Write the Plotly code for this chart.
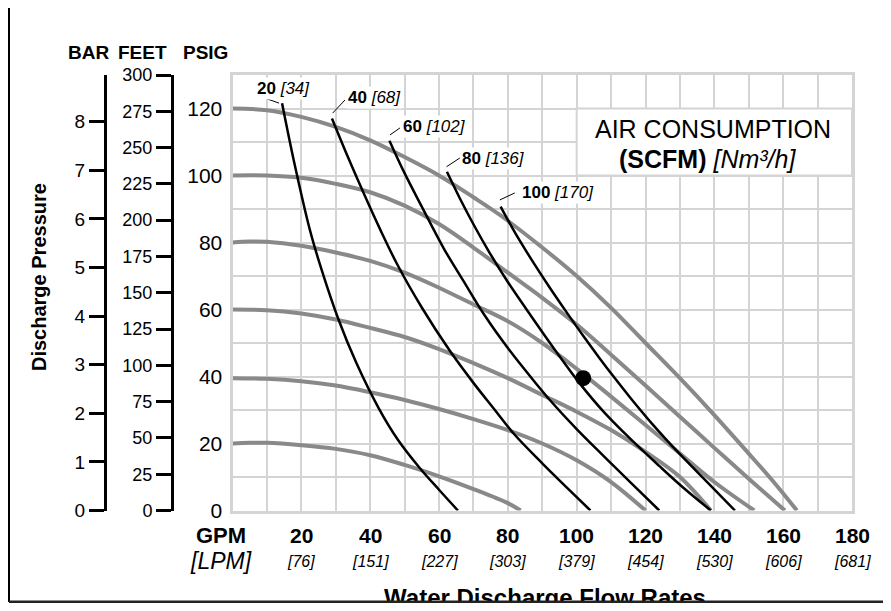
import plotly.graph_objects as go

# ---------------- data ----------------
GPM_TICKS = [20, 40, 60, 80, 100, 120, 140, 160, 180]
LPM_LABELS = ["76", "151", "227", "303", "379", "454", "530", "606", "681"]
FEET_TICKS = [0, 25, 50, 75, 100, 125, 150, 175, 200, 225, 250, 275, 300]
BAR_TICKS = [0, 1, 2, 3, 4, 5, 6, 7, 8]
FT_PER_PSI = 2.3077
PSI_PER_BAR = 14.5038

# pump performance curves (gray), GPM vs discharge PSIG
g120_x = [0, 10, 20, 30, 40, 50, 60, 70, 78, 90, 100, 110, 120, 130, 140, 150, 157, 164]
g120_y = [120, 119.5, 117.5, 114.5, 110.5, 105.5, 100, 93.5, 88, 78.5, 70, 60.5, 50, 39.5, 28.5, 17, 8.8, 0]
g100_x = [0, 10, 20, 30, 40, 50, 60, 70, 80, 90, 100, 110, 120, 130, 140, 150, 160.5]
g100_y = [100, 100, 99.3, 97.5, 95, 91, 85.5, 78.5, 71, 63.5, 55.5, 46.5, 37.3, 28, 18.7, 9.5, 0]
g80_x = [0, 5, 10, 20, 30, 40, 50, 60, 70, 80, 90, 100, 110, 120, 130, 140, 151.6]
g80_y = [80, 80.3, 80.2, 79, 77, 74.5, 71, 66.5, 61.5, 56.5, 50, 42.3, 34, 25.5, 17, 8.5, 0]
g60_x = [0, 10, 20, 30, 40, 50, 60, 70, 80, 90, 100, 110, 120, 130, 139]
g60_y = [60, 59.8, 58.8, 57, 54.5, 51.8, 48.2, 44, 39.5, 34.5, 29.5, 24, 17.5, 10, 0]
g40_x = [0, 10, 20, 30, 40, 50, 60, 70, 80, 90, 100, 110, 120]
g40_y = [39.5, 39.3, 38.6, 37.3, 35.3, 33, 30.3, 27.3, 24, 20, 15, 8.5, 0]
g20_x = [0, 5, 10, 20, 30, 40, 50, 60, 70, 80, 83.7]
g20_y = [20, 20.2, 20.2, 19.5, 18.4, 16.5, 13.6, 10.2, 6.4, 2.2, 0]

# air consumption curves (black)
SCFM = [20, 40, 60, 80, 100]
NM3H = [34, 68, 102, 136, 170]
b20_x = [14.4, 18, 22.5, 26, 30.8, 36, 42.5, 48, 54.4, 60, 65.5]
b20_y = [121.6, 103.6, 83.7, 71.5, 57, 44, 30.5, 21.2, 12.7, 6.2, 0]
b40_x = [28.9, 33, 38, 43, 48, 55, 63, 70, 76, 82, 90, 97, 104]
b40_y = [117, 106.8, 95, 83.7, 73.2, 60.6, 47.9, 38.1, 30.3, 22.6, 14.1, 7, 0]
b60_x = [45.6, 50, 55, 61.4, 67, 73.3, 80, 87, 92.2, 100, 108, 116, 124]
b60_y = [110.4, 100.7, 90.7, 78.2, 68.7, 58.2, 48.5, 39.4, 33, 24.3, 16.1, 8, 0]
b80_x = [62.3, 66, 70.4, 74.5, 80, 87, 94, 101, 108, 116, 124, 131, 139]
b80_y = [101.1, 93.3, 84.7, 77.3, 68.2, 57.7, 47.5, 37.8, 29.3, 21, 13.3, 6.8, 0]
b100_x = [77.9, 82, 87.3, 92, 97, 102, 106.7, 111, 115.4, 122, 130, 138, 146]
b100_y = [90.7, 83.1, 74.2, 66.8, 59.3, 52, 45.4, 39.6, 33.9, 25.8, 16.8, 8.4, 0]

DOT_X = [101.9]
DOT_Y = [39.5]

# ---------------- styling / layout helpers ----------------
FONT = "Liberation Sans, Arial, Helvetica, sans-serif"
GRID = "#d4d4d4"
GRAY = "#898989"
OFF = 8                      # page body margin
W, H = 875, 595
ML, MR, MT, MB = 12, 31, 67, 0
PW, PH = W - ML - MR, H - MT - MB


def fx(px):
    return (px - OFF - ML) / PW


def fy(py):
    return 1 - (py - OFF - MT) / PH


LABEL_SHIFT = [(1, 15), (43, 21.5), (45, 13.7), (46.4, 13.8), (57.7, 13.7)]
LEADER = [(-17, 5, -3, 0), (0.7, 5.5, 13, 18.5), (0.5, 5.7, 10.5, 12.7),
          (-0.4, 5.1, 12.9, 13.8), (-0.8, 6.7, 14.2, 13.7)]

fig = go.Figure()

for gx, gy in [(g20_x, g20_y), (g40_x, g40_y), (g60_x, g60_y),
               (g80_x, g80_y), (g100_x, g100_y), (g120_x, g120_y)]:
    fig.add_trace(go.Scatter(x=gx, y=gy, mode="lines",
                             line=dict(color=GRAY, width=4, shape="spline", smoothing=1),
                             hoverinfo="skip", showlegend=False))

blacks = [(b20_x, b20_y), (b40_x, b40_y), (b60_x, b60_y), (b80_x, b80_y), (b100_x, b100_y)]
for bx, by in blacks:
    fig.add_trace(go.Scatter(x=bx, y=by, mode="lines",
                             line=dict(color="black", width=2.5, shape="spline", smoothing=1),
                             hoverinfo="skip", showlegend=False))

fig.add_trace(go.Scatter(x=DOT_X, y=DOT_Y, mode="markers",
                         marker=dict(color="black", size=16), hoverinfo="skip", showlegend=False))

# dummy traces so the FEET and BAR axes exist
fig.add_trace(go.Scatter(x=[None], y=[None], yaxis="y2", showlegend=False, hoverinfo="skip"))
fig.add_trace(go.Scatter(x=[None], y=[None], yaxis="y3", showlegend=False, hoverinfo="skip"))

# bottom title drawn as clipped text in a hidden strip subplot (cut off like the reference)
STRIP_TOP, STRIP_BOT = 572, 603
fig.add_trace(go.Scatter(x=[fx(545)], y=[(STRIP_BOT - 600) / (STRIP_BOT - STRIP_TOP)],
                         xaxis="x2", yaxis="y4", mode="text",
                         text=["<b>Water Discharge Flow Rates</b>"],
                         textfont=dict(family=FONT, size=24, color="black"),
                         textposition="middle center", cliponaxis=True,
                         hoverinfo="skip", showlegend=False))

annotations = []
shapes = []


def ann(x, y, text, size, xref="paper", yref="paper", **kw):
    d = dict(x=x, y=y, xref=xref, yref=yref, text=text, showarrow=False,
             xanchor="center", yanchor="middle", font=dict(size=size))
    d.update(kw)
    annotations.append(d)


# x tick labels
for g, l in zip(GPM_TICKS, LPM_LABELS):
    ann(g, fy(535), f"<b>{g}</b>", 21, xref="x")
    ann(g, fy(561), f"<i>[{l}]</i>", 16, xref="x")
ann(fx(221), fy(535), "<b>GPM</b>", 22)
ann(fx(221), fy(561), "<i>[LPM]</i>", 23)

# axis headers
for txt, px in [("BAR", 88), ("FEET", 142), ("PSIG", 205)]:
    ann(fx(px), fy(53), f"<b>{txt}</b>", 19)
ann(fx(39), fy(277), "<b>Discharge Pressure</b>", 20, textangle=-90)

# air consumption labels
for (bx, by), s, n, (dx, dy), (a0, b0, a1, b1) in zip(blacks, SCFM, NM3H, LABEL_SHIFT, LEADER):
    ann(bx[0], by[0], f"<b>{s}</b> <i>[{n}]</i>", 17, xref="x", yref="y",
        xshift=dx, yshift=dy, bgcolor="white", borderpad=1)
    shapes.append(dict(type="line", xref="x", yref="y", xsizemode="pixel", ysizemode="pixel",
                       xanchor=bx[0], yanchor=by[0], x0=a0, y0=b0, x1=a1, y1=b1,
                       line=dict(color="black", width=1)))

# AIR CONSUMPTION title box
shapes.append(dict(type="rect", xref="x", yref="y", x0=100, x1=180, y0=100, y1=120,
                   fillcolor="white", line=dict(color=GRID, width=2), layer="between"))
ann(139.5, 113.9, "AIR CONSUMPTION", 25, xref="x", yref="y")
ann(138, 104.9, "<b>(SCFM)</b> <i>[Nm³/h]</i>", 25, xref="x", yref="y")

# page frame lines
shapes.append(dict(type="line", xref="paper", yref="paper", x0=fx(9), x1=fx(9), y0=fy(0), y1=fy(602),
                   line=dict(color="black", width=2)))
shapes.append(dict(type="line", xref="paper", yref="paper", x0=fx(0), x1=fx(9), y0=fy(77), y1=fy(77),
                   line=dict(color="black", width=2)))
shapes.append(dict(type="line", xref="paper", yref="paper", x0=fx(9), x1=fx(891), y0=fy(602), y1=fy(602),
                   line=dict(color="#222222", width=3)))

fig.update_layout(
    width=W, height=H,
    margin=dict(l=ML, r=MR, t=MT, b=MB, autoexpand=False),
    paper_bgcolor="white", plot_bgcolor="white",
    font=dict(family=FONT, color="black"),
    showlegend=False,
    xaxis=dict(domain=[fx(232.5), 1], range=[0, 180], dtick=20, tick0=0,
               showticklabels=False, ticks="", showgrid=True, gridcolor=GRID, gridwidth=2,
               minor=dict(dtick=10, showgrid=True, gridcolor=GRID, gridwidth=2),
               showline=True, mirror=True, linecolor=GRID, linewidth=3, zeroline=False),
    yaxis=dict(domain=[fy(510.5), 1], range=[0, 130], dtick=20, tick0=0,
               tickfont=dict(size=21), ticks="", ticklabelstandoff=3,
               showgrid=True, gridcolor=GRID, gridwidth=2,
               minor=dict(dtick=10, showgrid=True, gridcolor=GRID, gridwidth=2),
               showline=True, mirror=True, linecolor=GRID, linewidth=3, zeroline=False),
    yaxis2=dict(overlaying="y", anchor="free", position=fx(172), side="left",
                range=[0, 130 * FT_PER_PSI], tickmode="array", tickvals=FEET_TICKS,
                ticks="outside", ticklen=15, tickwidth=3, tickcolor="black",
                showline=True, linecolor="black", linewidth=3, showgrid=False, zeroline=False,
                tickfont=dict(size=18)),
    yaxis3=dict(overlaying="y", anchor="free", position=fx(105), side="left",
                range=[0, 130 / PSI_PER_BAR], tickmode="array", tickvals=BAR_TICKS,
                ticks="outside", ticklen=15, tickwidth=3, tickcolor="black",
                showline=True, linecolor="black", linewidth=3, showgrid=False, zeroline=False,
                tickfont=dict(size=19)),
    xaxis2=dict(domain=[0, 1], range=[0, 1], visible=False, anchor="y4"),
    yaxis4=dict(domain=[0, fy(STRIP_TOP)], range=[0, 1], visible=False, anchor="x2"),
    annotations=annotations,
    shapes=shapes,
)

fig.write_html("out.html")
